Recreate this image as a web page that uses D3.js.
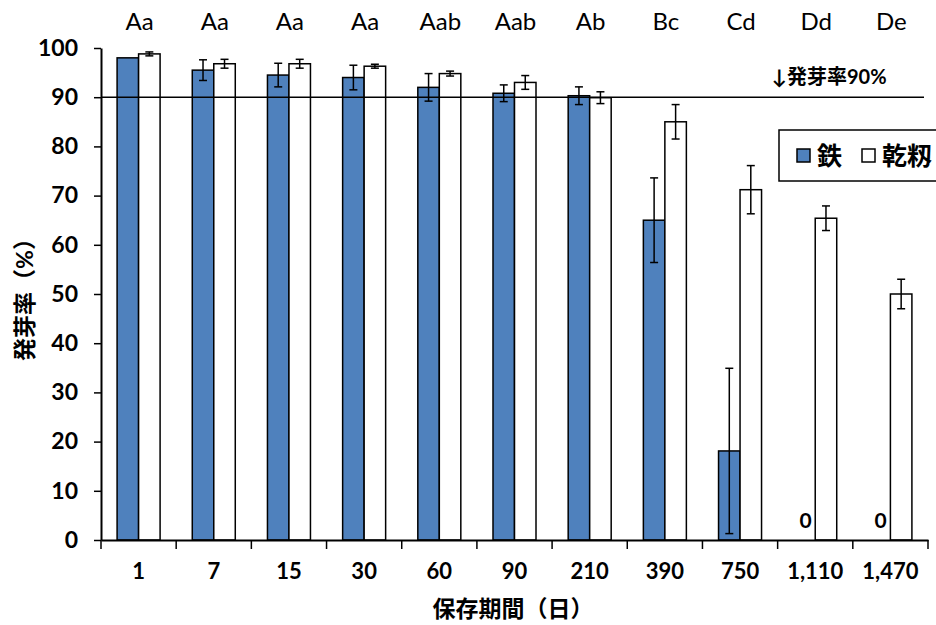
<!DOCTYPE html>
<html>
<head>
<meta charset="utf-8">
<script src="https://cdn.jsdelivr.net/npm/d3@7"></script>
<style>
  body { margin: 0; background: #fff; overflow: hidden; }
  svg text { font-family: Lato, "Noto Sans CJK JP", sans-serif; }
</style>
</head>
<body>
<div id="chart"></div>
<script>
// Data
const days = ["1", "7", "15", "30", "60", "90", "210", "390", "750", "1,110", "1,470"];
const letters = ["Aa", "Aa", "Aa", "Aa", "Aab", "Aab", "Ab", "Bc", "Cd", "Dd", "De"];
const ironValues = [98, 95.5, 94.5, 94, 92, 90.8, 90.3, 65, 18.1, 0, 0];
const ironErrors = [0, 2.1, 2.4, 2.5, 2.8, 1.7, 1.8, 8.6, 16.8, 0, 0];
const paddyValues = [98.8, 96.8, 96.8, 96.3, 94.8, 93, 89.9, 85, 71.2, 65.4, 50];
const paddyErrors = [0.4, 0.9, 0.9, 0.4, 0.5, 1.4, 1.2, 3.5, 4.9, 2.5, 3];
const yTicks = [0, 10, 20, 30, 40, 50, 60, 70, 80, 90, 100];

const W = 936, H = 625;
const svg = d3.select("#chart").append("svg")
    .attr("width", W)
    .attr("height", H);

const x0 = 101, x1 = 928, yTop = 48, yBot = 540;

const x = d3.scaleBand()
    .domain(days)
    .range([x0, x1])
    .paddingInner(0)
    .paddingOuter(0);

const y = d3.scaleLinear()
    .domain([0, 100])
    .range([yBot, yTop]);

const barW = 21.5;
const blue = "#4F81BD";

// bars
const groups = svg.selectAll(".grp")
    .data(days)
    .enter().append("g")
    .attr("class", "grp");

groups.each(function(d, i) {
    const g = d3.select(this);
    const cx = x(d) + x.bandwidth() / 2;
    if (ironValues[i] > 0) {
        g.append("rect")
            .attr("x", cx - barW)
            .attr("y", y(ironValues[i]))
            .attr("width", barW)
            .attr("height", y(0) - y(ironValues[i]))
            .attr("fill", blue)
            .attr("stroke", "#000")
            .attr("stroke-width", 1.5);
    }
    g.append("rect")
        .attr("x", cx)
        .attr("y", y(paddyValues[i]))
        .attr("width", barW)
        .attr("height", y(0) - y(paddyValues[i]))
        .attr("fill", "#fff")
        .attr("stroke", "#000")
        .attr("stroke-width", 1.5);

    // error bars
    const errs = [
        { c: cx - barW / 2, v: ironValues[i], e: ironErrors[i] },
        { c: cx + barW / 2, v: paddyValues[i], e: paddyErrors[i] }
    ];
    errs.forEach(o => {
        if (o.e <= 0) return;
        g.append("line")
            .attr("x1", o.c).attr("x2", o.c)
            .attr("y1", y(o.v + o.e)).attr("y2", y(o.v - o.e))
            .attr("stroke", "#000").attr("stroke-width", 1.5);
        [o.v + o.e, o.v - o.e].forEach(v => {
            g.append("line")
                .attr("x1", o.c - 4).attr("x2", o.c + 4)
                .attr("y1", y(v)).attr("y2", y(v))
                .attr("stroke", "#000").attr("stroke-width", 1.5);
        });
    });

    // zero labels
    if (ironValues[i] === 0) {
        g.append("text")
            .attr("x", cx - barW / 2 + 1)
            .attr("y", y(0) - 12)
            .attr("text-anchor", "middle")
            .style("font-size", "21px")
            .style("font-weight", "bold")
            .text("0");
    }

    // significance letters
    g.append("text")
        .attr("x", cx + 1)
        .attr("y", 30)
        .attr("text-anchor", "middle")
        .style("font-size", "24px")
        .text(letters[i]);
});

// 90% reference line
svg.append("line")
    .attr("x1", x0).attr("x2", 924)
    .attr("y1", y(90)).attr("y2", y(90))
    .attr("stroke", "#000").attr("stroke-width", 1.5);

svg.append("text")
    .attr("x", 772)
    .attr("y", 84)
    .style("font-size", "20px")
    .style("font-weight", "bold")
    .text("↓発芽率90%");

// y axis
const yAxis = svg.append("g")
    .attr("transform", `translate(${x0},0)`)
    .call(d3.axisLeft(y).tickValues(yTicks).tickSize(7).tickSizeOuter(0).tickPadding(16));
yAxis.select(".domain").attr("stroke-width", 2);
yAxis.selectAll(".tick line").attr("stroke-width", 1.5);
yAxis.selectAll(".tick text")
    .style("font-size", "23px")
    .style("font-weight", "bold")
    .style("font-family", "Lato, sans-serif")
    .attr("fill", "#000");

// x axis
const xAxis = svg.append("g")
    .attr("transform", `translate(0,${yBot})`)
    .call(d3.axisBottom(x).tickSize(0).tickSizeOuter(0).tickPadding(23));
xAxis.select(".domain").attr("stroke-width", 2);
xAxis.selectAll(".tick text")
    .style("font-size", "22px")
    .style("font-weight", "bold")
    .style("font-family", "Lato, sans-serif")
    .attr("fill", "#000");

// x boundary ticks
svg.selectAll(".xb")
    .data(days.concat(["end"]))
    .enter().append("line")
    .attr("class", "xb")
    .attr("x1", (d, i) => x0 + i * x.bandwidth())
    .attr("x2", (d, i) => x0 + i * x.bandwidth())
    .attr("y1", yBot)
    .attr("y2", yBot + 9)
    .attr("stroke", "#000")
    .attr("stroke-width", 1.5);

// axis titles
svg.append("text")
    .attr("x", 513)
    .attr("y", 617)
    .attr("text-anchor", "middle")
    .style("font-size", "23px")
    .style("font-weight", "bold")
    .text("保存期間（日）");

svg.append("text")
    .attr("transform", `translate(33,${(yTop + yBot) / 2}) rotate(-90)`)
    .attr("text-anchor", "middle")
    .style("font-size", "23px")
    .style("font-weight", "bold")
    .text("発芽率（%）");

// legend
const legend = svg.append("g").attr("transform", "translate(779,130)");
legend.append("rect")
    .attr("x", 0).attr("y", 0)
    .attr("width", 180).attr("height", 51)
    .attr("fill", "#fff")
    .attr("stroke", "#000")
    .attr("stroke-width", 1.5);
const legendItems = [
    { label: "鉄", fill: blue, x: 18 },
    { label: "乾籾", fill: "#fff", x: 83 }
];
legendItems.forEach(it => {
    legend.append("rect")
        .attr("x", it.x).attr("y", 19)
        .attr("width", 13).attr("height", 13)
        .attr("fill", it.fill)
        .attr("stroke", "#000")
        .attr("stroke-width", 1.5);
    legend.append("text")
        .attr("x", it.x + 20)
        .attr("y", 35)
        .style("font-size", "25px")
        .style("font-weight", "bold")
        .text(it.label);
});
</script>
</body>
</html>
